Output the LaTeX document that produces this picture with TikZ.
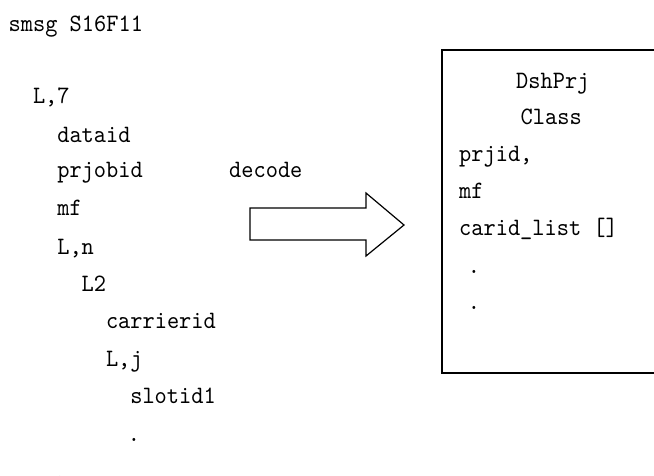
\documentclass[tikz,border=0pt]{standalone}
\usepackage{fontspec}
% narrow serif monospace for the message listing
\newfontfamily\codefont{lmmono10-regular.otf}[FakeStretch=0.93]
\begin{document}
\begin{tikzpicture}[x=1pt,y=-1pt,
  code/.style={font=\codefont\fontsize{25}{25}\selectfont, anchor=base west, inner sep=0pt},
  codedot/.style={font=\codefont\fontsize{25}{25}\selectfont, anchor=base, inner sep=0pt},
  classbox/.style={draw=black, line width=1.6pt},
  bigarrow/.style={draw=black, line width=1.2pt, fill=white, line join=miter}]
\useasboundingbox (0,0) rectangle (654,475);

% SECS message structure
\node[code] (smsg)      at (8.5,31)  {smsg S16F11};
\node[code] (l7)        at (32.8,103) {L,7};
\node[code] (dataid)    at (57.1,142) {dataid};
\node[code] (prjobid)   at (57.1,177) {prjobid};
\node[code] (mf)        at (57.1,215) {mf};
\node[code] (ln)        at (57.1,254) {L,n};
\node[code] (ltwo)      at (81.5,291) {L2};
\node[code] (carrierid) at (105.8,328) {carrierid};
\node[code] (lj)        at (105.8,366) {L,j};
\node[code] (slotid)    at (130.1,403) {slotid1};
\node[codedot] (dotA)   at (134,441.5) {.};
\node[codedot] (dotB)   at (60,479) {.};

% decode arrow
\node[code] (decode) at (229,177) {decode};
\coordinate (arrA) at (250,208);
\coordinate (arrB) at (366,208);
\coordinate (arrC) at (366,193);
\coordinate (arrTip) at (404,225);
\coordinate (arrD) at (366,256);
\coordinate (arrE) at (366,240);
\coordinate (arrF) at (250,240);
\draw[bigarrow] (arrA) -- (arrB) -- (arrC) -- (arrTip) -- (arrD) -- (arrE) -- (arrF) -- cycle;

% target class
\coordinate (boxNW) at (442,50);
\coordinate (boxSE) at (672,373);
\draw[classbox] (boxNW) rectangle (boxSE);
\node[code] (clsname)   at (516,88)  {DshPrj};
\node[code] (clsword)   at (520.5,124) {Class};
\node[code] (prjid)     at (459,161) {prjid,};
\node[code] (mfield)    at (459,198) {mf};
\node[code] (caridlist) at (459,235) {carid\_list []};
\node[codedot] (dotC)   at (474,273.5) {.};
\node[codedot] (dotD)   at (474,309.5) {.};
\end{tikzpicture}
\end{document}
